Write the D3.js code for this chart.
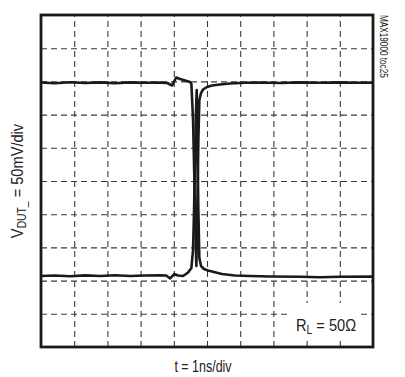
<!DOCTYPE html>
<html>
<head>
<meta charset="utf-8">
<script src="https://cdn.jsdelivr.net/npm/d3@7"></script>
<style>
  html, body { margin: 0; padding: 0; background: #fff; }
  svg { display: block; }
  text { font-family: "Liberation Sans", Arial, sans-serif; fill: #222; }
</style>
</head>
<body>
<svg id="chart" width="405" height="377"></svg>
<script>
// Screen: 10 divisions each way, 1 ns/div horizontally, 50 mV/div vertically (centre = 0 mV)
const xDivs = d3.range(1, 10);          // interior vertical grid positions (ns)
const yDivs = d3.range(-200, 250, 50);  // interior horizontal grid positions (mV)

// Trace A: sits high, short negative-going pulse
const timeA = [0.00, 0.42, 0.87, 1.33, 1.78, 2.23, 2.68, 3.13, 3.58, 3.80, 3.95, 4.07, 4.19, 4.34, 4.49,
  4.53, 4.58, 4.62, 4.65, 4.68, 4.71, 4.74, 4.77, 4.82, 4.88, 5.00, 5.15, 5.39, 5.69, 6.14, 6.60,
  7.20, 7.80, 8.40, 9.01, 9.46, 10.00];
const voltA = [148.3, 147.3, 148.8, 147.6, 148.5, 147.3, 148.6, 147.9, 148.2, 147.6, 143.8, 155.9, 153.6, 151.4, 149.1,
  146.1, 91.9, 1.5, -73.8, -128.0, -43.7, 61.7, 122.0, 132.5, 137.8, 141.6, 143.8, 145.3, 146.8, 147.9, 148.3,
  147.6, 148.6, 147.9, 148.5, 147.9, 148.2];

// Trace B: sits low, short positive-going pulse
const timeB = [0.00, 0.42, 0.87, 1.33, 1.78, 2.23, 2.68, 3.13, 3.58, 3.77, 3.89, 4.01, 4.13, 4.28, 4.43,
  4.53, 4.58, 4.61, 4.64, 4.67, 4.69, 4.71, 4.74, 4.77, 4.82, 4.91, 5.03, 5.21, 5.45, 5.84, 6.30,
  6.90, 7.80, 8.40, 9.01, 10.00];
const voltB = [-143.1, -142.3, -143.4, -142.2, -143.1, -142.0, -143.1, -142.3, -141.9, -142.3, -146.8, -140.1, -142.3, -143.1, -137.8,
  -131.0, -103.9, -43.7, 31.6, 106.9, 137.0, 61.7, -43.7, -116.0, -128.0, -132.5, -134.8, -137.0, -140.1, -142.3, -143.1,
  -143.8, -144.3, -144.9, -144.3, -144.0];

const svg = d3.select("#chart");
const plotLeft = 41, plotTop = 15, w = 332, h = 332;
const narrow = 0.78; // horizontal squeeze for a condensed look

const x = d3.scaleLinear().domain([0, 10]).range([plotLeft, plotLeft + w]);
const y = d3.scaleLinear().domain([-250, 250]).range([plotTop + h, plotTop]);

// dashed graticule
const gx = svg.append("g")
  .attr("transform", `translate(0,${plotTop + h})`)
  .call(d3.axisBottom(x).tickValues(xDivs).tickSize(-h).tickFormat(""));
const gy = svg.append("g")
  .attr("transform", `translate(${plotLeft},0)`)
  .call(d3.axisLeft(y).tickValues(yDivs).tickSize(-w).tickFormat(""));
[gx, gy].forEach(g => {
  g.select(".domain").remove();
  g.selectAll(".tick line")
    .attr("stroke", "#3a3a3a")
    .attr("stroke-width", 1.1)
    .attr("stroke-dasharray", "6,4");
});

// label box for the load condition (drawn over the graticule)
const rl = svg.append("g").attr("transform", `translate(296,331) scale(0.86,1)`);
const rlText = rl.append("text").attr("font-size", 17);
rlText.append("tspan").text("R");
rlText.append("tspan").attr("font-size", 12).attr("dy", 3).text("L");
rlText.append("tspan").attr("dy", -3).text(" = 50Ω");
const bb = rlText.node().getBBox();
rl.insert("rect", "text")
  .attr("x", bb.x - 8).attr("y", -28)
  .attr("width", bb.width + 12).attr("height", 34)
  .attr("fill", "#fff");

// traces
const line = d3.line().x(d => x(d[0])).y(d => y(d[1])).curve(d3.curveLinear);
const traceA = timeA.map((t, i) => [t, voltA[i]]);
const traceB = timeB.map((t, i) => [t, voltB[i]]);
[traceA, traceB].forEach(d => {
  svg.append("path")
    .datum(d)
    .attr("d", line)
    .attr("fill", "none")
    .attr("stroke", "#1a1a1a")
    .attr("stroke-width", 2.6)
    .attr("stroke-linejoin", "round");
});

// frame
svg.append("rect")
  .attr("x", plotLeft).attr("y", plotTop).attr("width", w).attr("height", h)
  .attr("fill", "none").attr("stroke", "#1a1a1a").attr("stroke-width", 2.8);

// x caption
svg.append("text")
  .attr("transform", `translate(${plotLeft + w / 2 - 4},372) scale(${narrow},1)`)
  .attr("text-anchor", "middle").attr("font-size", 16)
  .text("t = 1ns/div");

// y caption
const yl = svg.append("text")
  .attr("transform", `translate(23,${plotTop + h / 2}) rotate(-90) scale(0.86,1)`)
  .attr("text-anchor", "middle").attr("font-size", 17);
yl.append("tspan").text("V");
yl.append("tspan").attr("font-size", 12).attr("dy", 3).text("DUT_");
yl.append("tspan").attr("dy", -3).text(" = 50mV/div");

// figure tag
svg.append("text")
  .attr("transform", `translate(380,${plotTop}) rotate(90) scale(0.82,1)`)
  .attr("text-anchor", "start").attr("font-size", 10)
  .attr("fill", "#444")
  .text("MAX19000 toc25");
</script>
</body>
</html>
